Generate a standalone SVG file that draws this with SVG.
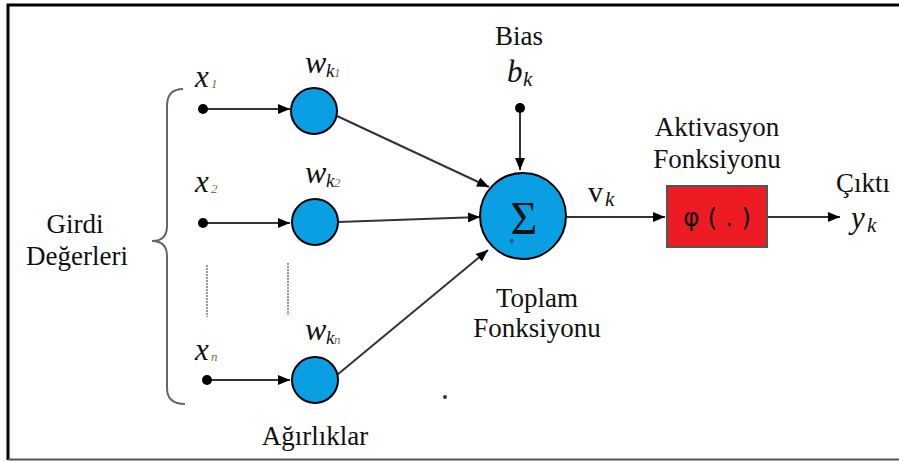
<svg xmlns="http://www.w3.org/2000/svg" width="899" height="461" viewBox="0 0 899 461">
<style>
.t{font-family:"Liberation Serif","Times New Roman",serif;font-size:27px;fill:#111;text-anchor:middle}
.m{font-family:"Liberation Serif","Times New Roman",serif;font-style:italic;fill:#111}
.sub{font-family:"Liberation Serif","Times New Roman",serif;font-style:italic;font-size:13px;fill:#8a6a40}
.w{fill:#0A9FE3;stroke:#000;stroke-width:2}
.ln{stroke:#333;stroke-width:2;fill:none}
.dot{fill:#000}
</style>
<defs>
<marker id="ah" viewBox="0 0 12 10" refX="12" refY="5" markerWidth="12" markerHeight="10" markerUnits="userSpaceOnUse" orient="auto">
<path d="M0,0 L12,5 L0,10 Z" fill="#000"/>
</marker>
</defs>
<rect width="899" height="461" fill="#fff"/>
<path d="M8,460 L8,5 L899,5" fill="none" stroke="#000" stroke-width="3"/>
<line x1="8" y1="459.5" x2="899" y2="459.5" stroke="#555" stroke-width="2"/>

<g id="connectors">
<line class="ln" x1="204" y1="109" x2="290" y2="109" marker-end="url(#ah)"/>
<line class="ln" x1="204" y1="223" x2="290" y2="223" marker-end="url(#ah)"/>
<line class="ln" x1="207" y1="380" x2="290" y2="380" marker-end="url(#ah)"/>
<line class="ln" x1="337" y1="116" x2="489" y2="187" marker-end="url(#ah)"/>
<line class="ln" x1="338" y1="222" x2="480" y2="217" marker-end="url(#ah)"/>
<line class="ln" x1="337" y1="375" x2="488" y2="250" marker-end="url(#ah)"/>
<line class="ln" x1="520" y1="108" x2="520" y2="170" marker-end="url(#ah)"/>
<line class="ln" x1="567" y1="217" x2="665" y2="217" marker-end="url(#ah)"/>
<line class="ln" x1="768" y1="217" x2="840" y2="217" marker-end="url(#ah)"/>
</g>

<g id="brace">
<path d="M183,89 Q167,89 167,106 L167,226 Q167,241 152,241 Q167,241 167,256 L167,388 Q167,404 185,404" fill="none" stroke="#666" stroke-width="2"/>
</g>

<g id="dots">
<line x1="207" y1="265" x2="207" y2="317" stroke="#999" stroke-width="2" stroke-dasharray="2,1"/>
<line x1="288" y1="263" x2="288" y2="315" stroke="#999" stroke-width="2" stroke-dasharray="2,1"/>
</g>

<g id="x1"><circle class="dot" cx="203" cy="109" r="5"/><text class="m" x="195" y="87" font-size="31">x</text><text class="sub" x="211" y="88">1</text></g>
<g id="x2"><circle class="dot" cx="203" cy="223" r="5"/><text class="m" x="195" y="192" font-size="31">x</text><text class="sub" x="211" y="193">2</text></g>
<g id="xn"><circle class="dot" cx="207" cy="380" r="5"/><text class="m" x="195" y="360" font-size="31">x</text><text class="sub" x="211" y="361">n</text></g>

<g id="w1"><circle class="w" cx="314" cy="111" r="23"/><text class="m" x="305" y="73" font-size="32">w</text><text class="m" x="326" y="77" font-size="19">k</text><text class="sub" x="334" y="77">1</text></g>
<g id="w2"><circle class="w" cx="315" cy="222" r="23"/><text class="m" x="305" y="183" font-size="32">w</text><text class="m" x="326" y="187" font-size="19">k</text><text class="sub" x="334" y="187">2</text></g>
<g id="wn"><circle class="w" cx="315" cy="380" r="23"/><text class="m" x="305" y="340" font-size="32">w</text><text class="m" x="326" y="344" font-size="19">k</text><text class="sub" x="334" y="344">n</text></g>

<g id="bias"><circle class="dot" cx="520" cy="108" r="5"/><text class="t" x="519" y="45">Bias</text><text class="m" x="507" y="82" font-size="31">b</text><text class="m" x="523" y="86" font-size="21">k</text></g>

<g id="sum"><circle class="w" cx="523" cy="216" r="43"/><text x="524" y="234" font-family="'Liberation Serif',serif" font-size="46" text-anchor="middle" fill="#111">Σ</text><circle cx="512" cy="241" r="1.5" fill="none" stroke="#333" stroke-width="1"/></g>

<g id="vk"><text x="588" y="202" font-family="'Liberation Serif',serif" font-size="30" fill="#111">v</text><text class="m" x="605" y="206" font-size="21">k</text></g>

<g id="activation"><rect x="667" y="186" width="100" height="61" fill="#ED1C24" stroke="#555" stroke-width="2"/><text x="717" y="226" font-family="'DejaVu Sans',sans-serif" font-size="25" text-anchor="middle" fill="#111">φ ( . )</text>
<text class="t" x="717" y="136">Aktivasyon</text><text class="t" x="717" y="168">Fonksiyonu</text></g>

<g id="output"><text class="t" x="863" y="192">Çıktı</text><text class="m" x="851" y="228" font-size="31">y</text><text class="m" x="867" y="232" font-size="21">k</text></g>

<g id="labels">
<text class="t" x="537" y="307">Toplam</text>
<text class="t" x="537" y="337">Fonksiyonu</text>
<text class="t" x="75" y="233">Girdi</text>
<text class="t" x="77" y="265">Değerleri</text>
<text class="t" x="315" y="445">Ağırlıklar</text>
</g>
<circle cx="445" cy="397" r="2" fill="#333"/>
</svg>
